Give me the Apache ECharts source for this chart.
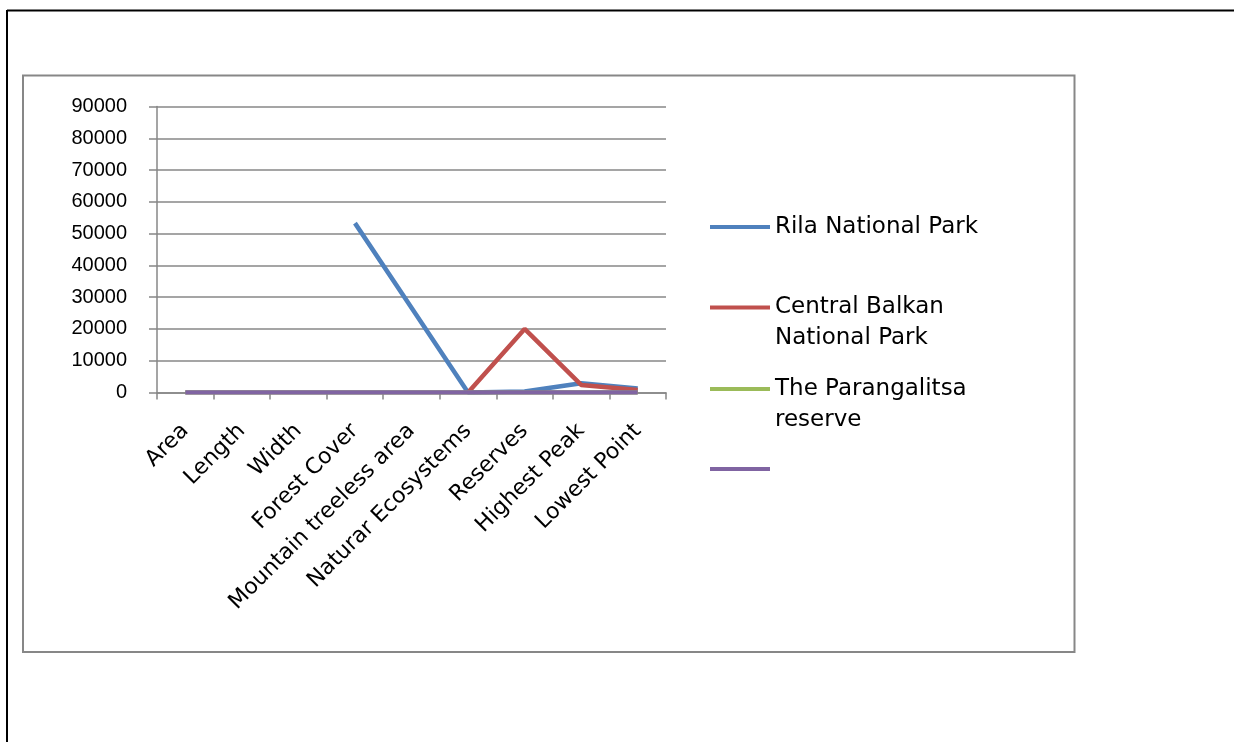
<!DOCTYPE html>
<html>
<head>
<meta charset="utf-8">
<script src="https://cdn.jsdelivr.net/npm/echarts@6/dist/echarts.min.js"></script>
<style>
html,body{margin:0;padding:0;background:#fff;}
#chart{width:1234px;height:742px;}
</style>
</head>
<body>
<div id="chart"></div>
<script>
const categories = ['Area','Length','Width','Forest Cover','Mountain treeless area','Naturar Ecosystems','Reserves','Highest Peak','Lowest Point'];
const seriesNames = ['Rila National Park','Central Balkan National Park','The Parangalitsa reserve',' '];
const legendLabels = ['Rila National Park',' \nCentral Balkan\nNational Park',' \nThe Parangalitsa\nreserve',' '];
const rila = [null,null,null,53300,26700,0,300,2925,1300];
const centralBalkan = [null,null,null,null,null,0,20000,2376,800];
const parangalitsa = [0,0,0,0,0,0,0,0,0];
const series4 = [0,0,0,0,0,0,0,0,0];
const yTicks = {min:0,max:90000,interval:10000};
const colors = ['#4F81BD','#C0504D','#9BBB59','#8064A2'];

const chart = echarts.init(document.getElementById('chart'), null, {renderer:'canvas'});
const dataSets = [rila, centralBalkan, parangalitsa, series4];
const legendTops = [211.5, 261, 342.5, 453.5];

const option = {
  animation:false,
  color: colors,
  graphic:[
    {type:'line', shape:{x1:7,y1:10.5,x2:1234,y2:10.5}, style:{stroke:'#000',lineWidth:2}},
    {type:'line', shape:{x1:7,y1:10,x2:7,y2:742}, style:{stroke:'#000',lineWidth:2}},
    {type:'rect', shape:{x:23,y:75.5,width:1051.5,height:576.5}, style:{fill:'none',stroke:'#878787',lineWidth:2}}
  ],
  grid:{left:157,right:568,top:106.5,bottom:349.5,containLabel:false},
  xAxis:{
    type:'category',
    data:categories,
    boundaryGap:true,
    axisLine:{show:true,lineStyle:{color:'#878787',width:1.5}},
    axisTick:{show:true,interval:0,length:7,lineStyle:{color:'#878787',width:1.5}},
    axisLabel:{interval:0,rotate:45,margin:35,color:'#000',fontFamily:'DejaVu Sans',fontSize:22}
  },
  yAxis:{
    type:'value',
    min:yTicks.min,max:yTicks.max,interval:yTicks.interval,
    axisLine:{show:true,lineStyle:{color:'#878787',width:1.5}},
    axisTick:{show:true,length:8,lineStyle:{color:'#878787',width:1.5}},
    axisLabel:{margin:30,color:'#000',fontFamily:'Liberation Sans',fontSize:20,formatter:v=>String(v)},
    splitLine:{show:true,lineStyle:{color:'#878787',width:1.5}}
  },
  legend: seriesNames.map((n,i)=>({
    data:[n],
    left:710,
    top:legendTops[i],
    padding:0,
    icon:'rect',
    itemWidth:60,
    itemHeight:4,
    selectedMode:false,
    formatter:()=>legendLabels[i],
    textStyle:{color:'#000',fontFamily:'DejaVu Sans',fontSize:23,lineHeight:31}
  })),
  series: seriesNames.map((n,i)=>({
    name:n,
    type:'line',
    data:dataSets[i],
    showSymbol:false,
    symbol:'none',
    connectNulls:false,
    lineStyle:{width:4.5,color:colors[i]},
    itemStyle:{color:colors[i]},
    z:2+i
  }))
};
chart.setOption(option);
</script>
</body>
</html>
